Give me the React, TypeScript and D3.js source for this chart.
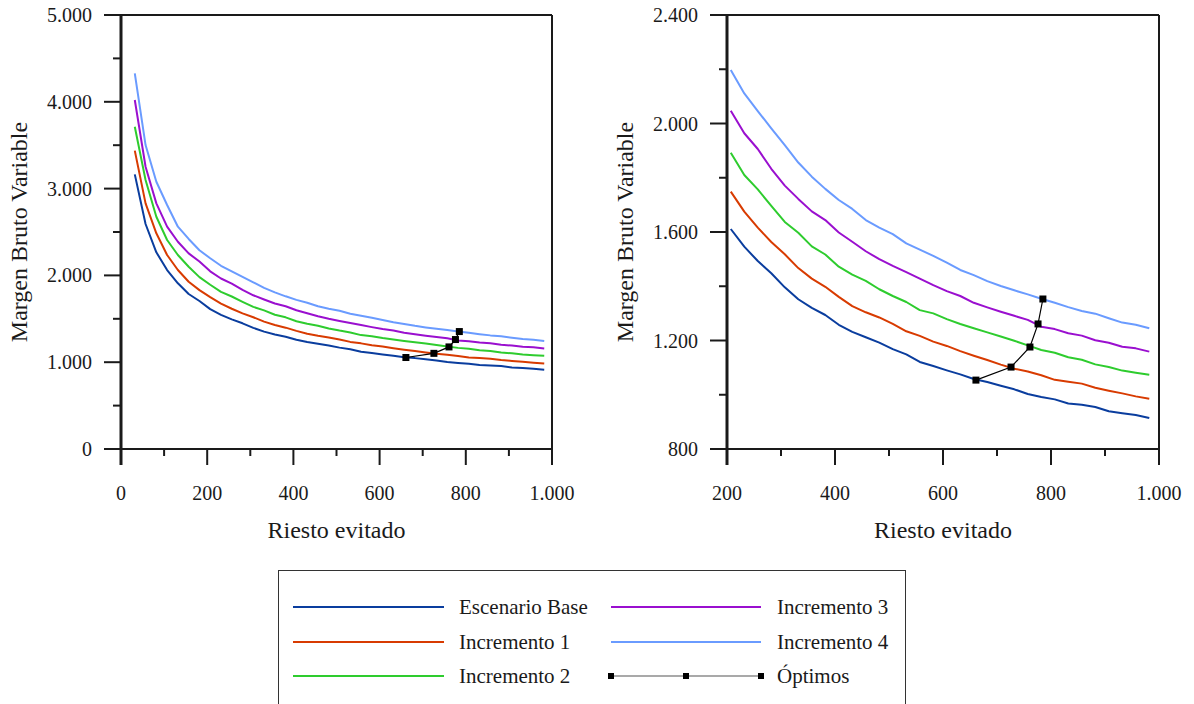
import React from "react";
import * as d3 from "d3";

// Riesto evitado (x) shared by every scenario
const riesto = [32, 57, 82, 107, 132, 157, 182, 207, 232, 257, 282, 307, 332, 357, 382, 407, 432, 457, 482, 507, 532, 557, 582, 607, 632, 657, 682, 707, 732, 757, 782, 807, 832, 857, 882, 907, 932, 957, 982];

// Margen Bruto Variable per scenario
const escenarioBase = [3164, 2592, 2266, 2062, 1909, 1786, 1705, 1611, 1546, 1493, 1448, 1396, 1352, 1320, 1294, 1258, 1232, 1212, 1192, 1168, 1149, 1121, 1106, 1090, 1075, 1058, 1047, 1033, 1020, 1003, 992, 983, 968, 963, 955, 939, 932, 925, 914];
const incremento1 = [3437, 2830, 2485, 2235, 2062, 1927, 1830, 1749, 1675, 1616, 1563, 1518, 1467, 1428, 1398, 1361, 1327, 1304, 1285, 1261, 1234, 1217, 1196, 1180, 1161, 1144, 1128, 1111, 1096, 1086, 1072, 1055, 1048, 1041, 1026, 1015, 1005, 994, 985];
const incremento2 = [3713, 3099, 2676, 2408, 2235, 2100, 1980, 1892, 1810, 1757, 1696, 1637, 1597, 1547, 1517, 1472, 1443, 1420, 1389, 1364, 1342, 1312, 1300, 1279, 1261, 1245, 1230, 1215, 1199, 1182, 1165, 1155, 1138, 1129, 1112, 1102, 1089, 1081, 1074];
const incremento3 = [4021, 3252, 2830, 2561, 2388, 2254, 2160, 2047, 1964, 1906, 1833, 1771, 1722, 1676, 1644, 1598, 1564, 1529, 1500, 1475, 1452, 1428, 1404, 1382, 1364, 1339, 1322, 1306, 1291, 1276, 1251, 1242, 1227, 1218, 1201, 1192, 1177, 1171, 1159];
const incremento4 = [4328, 3502, 3079, 2811, 2561, 2420, 2290, 2197, 2111, 2046, 1982, 1920, 1856, 1804, 1759, 1718, 1685, 1644, 1616, 1592, 1558, 1535, 1512, 1487, 1460, 1441, 1419, 1401, 1385, 1370, 1354, 1339, 1323, 1309, 1299, 1282, 1266, 1258, 1245];

// Optimum of each scenario
const optimoX = [661, 726, 761, 776, 785];
const optimoY = [1054, 1102, 1176, 1261, 1353];

const seriesNames = ["Escenario Base", "Incremento 1", "Incremento 2", "Incremento 3", "Incremento 4"];
const seriesValues = [escenarioBase, incremento1, incremento2, incremento3, incremento4];
const seriesColors = ["#0a3d9e", "#d83b01", "#2ecc2e", "#9a0fcf", "#6a9bff"];

// Axis ticks
const leftXMajor = [0, 200, 400, 600, 800, 1000];
const leftXMinor = [100, 300, 500, 700, 900];
const leftYMajor = [0, 1000, 2000, 3000, 4000, 5000];
const leftYMinor = [500, 1500, 2500, 3500, 4500];
const rightXMajor = [200, 400, 600, 800, 1000];
const rightXMinor = [300, 500, 700, 900];
const rightYMajor = [800, 1200, 1600, 2000, 2400];
const rightYMinor = [1000, 1400, 1800, 2200];

const xTitle = "Riesto evitado";
const yTitle = "Margen Bruto Variable";
const optimoLabel = "Óptimos";

const fmt = d3.formatLocale({ decimal: ",", thousands: ".", grouping: [3], currency: ["", "€"] }).format(",d");
const FONT = "'Liberation Serif', 'Times New Roman', serif";
const INK = "#1a1a1a";

type PanelProps = {
  x0: number; x1: number; y0: number; y1: number;
  xDomain: [number, number]; yDomain: [number, number];
  xMajor: number[]; xMinor: number[]; yMajor: number[]; yMinor: number[];
  minX: number; titleX: number;
};

function Panel(p: PanelProps) {
  const x = d3.scaleLinear().domain(p.xDomain).range([p.x0, p.x1]);
  const y = d3.scaleLinear().domain(p.yDomain).range([p.y1, p.y0]);
  const majorLen = 17;
  const minorLen = 8;
  // indices of the points that fall inside this panel's x range
  const idx = riesto.map((_, i) => i).filter((i) => riesto[i] >= p.minX);
  const optLine = d3
    .line<number>()
    .x((i) => x(optimoX[i]))
    .y((i) => y(optimoY[i]));
  return (
    <g>
      {seriesValues.map((vals, s) => {
        const gen = d3
          .line<number>()
          .x((i) => x(riesto[i]))
          .y((i) => y(vals[i]));
        return (
          <path key={s} d={gen(idx) || ""} fill="none" stroke={seriesColors[s]} strokeWidth={2} strokeLinejoin="round" />
        );
      })}
      <path d={optLine(optimoX.map((_, i) => i)) || ""} fill="none" stroke="#000" strokeWidth={1.2} />
      {optimoX.map((ox, i) => (
        <rect key={i} x={x(ox) - 3.5} y={y(optimoY[i]) - 3.5} width={7} height={7} fill="#000" />
      ))}

      {/* frame */}
      <line x1={p.x0 - majorLen} x2={p.x1} y1={p.y0} y2={p.y0} stroke={INK} strokeWidth={2} />
      <line x1={p.x0 - majorLen} x2={p.x1} y1={p.y1} y2={p.y1} stroke={INK} strokeWidth={2} />
      <line x1={p.x1} x2={p.x1} y1={p.y0} y2={p.y1 + 16} stroke={INK} strokeWidth={2} />
      <line x1={p.x0} x2={p.x0} y1={p.y0} y2={p.y1 + 16} stroke={INK} strokeWidth={3} />

      {/* y ticks */}
      {p.yMajor.map((v) => (
        <g key={"ym" + v}>
          <line x1={p.x0 - majorLen} x2={p.x0} y1={y(v)} y2={y(v)} stroke={INK} strokeWidth={2} />
          <text x={p.x0 - 29} y={y(v)} dy="0.35em" textAnchor="end" fontFamily={FONT} fontSize={20} fill={INK}>
            {fmt(v)}
          </text>
        </g>
      ))}
      {p.yMinor.map((v) => (
        <line key={"yn" + v} x1={p.x0 - minorLen} x2={p.x0} y1={y(v)} y2={y(v)} stroke={INK} strokeWidth={2} />
      ))}

      {/* x ticks */}
      {p.xMajor.map((v) => (
        <g key={"xm" + v}>
          <line x1={x(v)} x2={x(v)} y1={p.y1} y2={p.y1 + 16} stroke={INK} strokeWidth={2} />
          <text x={x(v)} y={500} textAnchor="middle" fontFamily={FONT} fontSize={20} fill={INK}>
            {fmt(v)}
          </text>
        </g>
      ))}
      {p.xMinor.map((v) => (
        <line key={"xn" + v} x1={x(v)} x2={x(v)} y1={p.y1} y2={p.y1 + 7} stroke={INK} strokeWidth={2} />
      ))}

      <text x={(p.x0 + p.x1) / 2} y={538} textAnchor="middle" fontFamily={FONT} fontSize={24} fill={INK}>
        {xTitle}
      </text>
      <text
        transform={`translate(${p.titleX},${(p.y0 + p.y1) / 2}) rotate(-90)`}
        textAnchor="middle"
        fontFamily={FONT}
        fontSize={24}
        fill={INK}
      >
        {yTitle}
      </text>
    </g>
  );
}

function Legend() {
  const rows = [607, 642, 676];
  const col1 = { x1: 293, x2: 444, tx: 459 };
  const col2 = { x1: 611, x2: 761, tx: 777 };
  const entries = [
    { col: col1, row: 0, s: 0 },
    { col: col1, row: 1, s: 1 },
    { col: col1, row: 2, s: 2 },
    { col: col2, row: 0, s: 3 },
    { col: col2, row: 1, s: 4 },
  ];
  const markerXs = [col2.x1, (col2.x1 + col2.x2) / 2, col2.x2];
  return (
    <g>
      <rect x={278.5} y={570.5} width={627} height={200} fill="none" stroke="#333" strokeWidth={1} />
      {entries.map((e) => (
        <g key={e.s}>
          <line x1={e.col.x1} x2={e.col.x2} y1={rows[e.row]} y2={rows[e.row]} stroke={seriesColors[e.s]} strokeWidth={2} />
          <text x={e.col.tx} y={rows[e.row]} dy="0.35em" fontFamily={FONT} fontSize={21} fill={INK}>
            {seriesNames[e.s]}
          </text>
        </g>
      ))}
      <line x1={col2.x1} x2={col2.x2} y1={rows[2]} y2={rows[2]} stroke="#555" strokeWidth={1.2} />
      {markerXs.map((mx, i) => (
        <rect key={i} x={mx - 3} y={rows[2] - 3} width={6} height={6} fill="#000" />
      ))}
      <text x={col2.tx} y={rows[2]} dy="0.35em" fontFamily={FONT} fontSize={21} fill={INK}>
        {optimoLabel}
      </text>
    </g>
  );
}

export default function App() {
  return (
    <svg
      width={1194}
      height={704}
      style={{ position: "absolute", left: 0, top: 0, background: "#fff" }}
    >
      <defs>
        <clipPath id="page">
          <rect x={0} y={0} width={1182} height={704} />
        </clipPath>
      </defs>
      <rect x={0} y={0} width={1194} height={704} fill="#fff" />
      <g clipPath="url(#page)">
        <Panel
          x0={121} x1={552} y0={15} y1={449}
          xDomain={[0, 1000]} yDomain={[0, 5000]}
          xMajor={leftXMajor} xMinor={leftXMinor} yMajor={leftYMajor} yMinor={leftYMinor}
          minX={0} titleX={27}
        />
        <Panel
          x0={727} x1={1159} y0={15} y1={449}
          xDomain={[200, 1000]} yDomain={[800, 2400]}
          xMajor={rightXMajor} xMinor={rightXMinor} yMajor={rightYMajor} yMinor={rightYMinor}
          minX={200} titleX={633}
        />
        <Legend />
      </g>
    </svg>
  );
}
